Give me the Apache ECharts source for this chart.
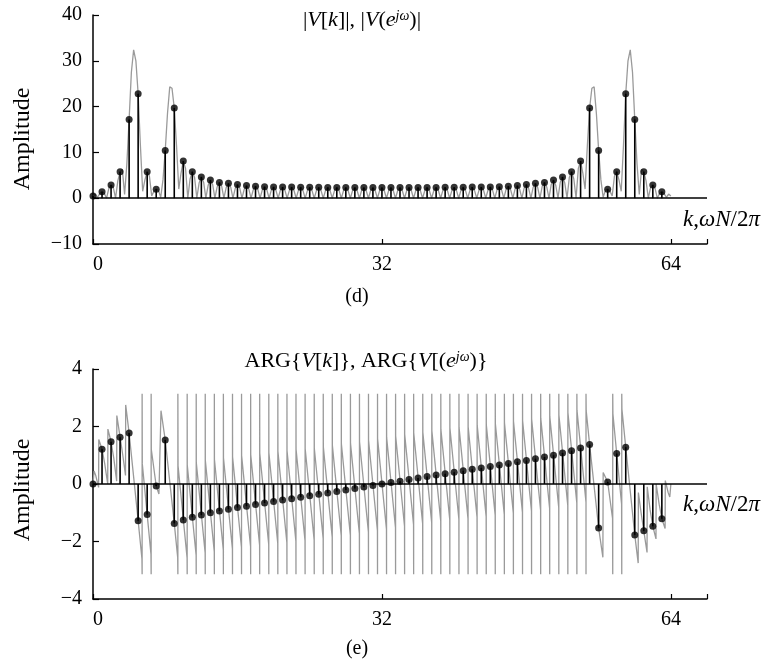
<!DOCTYPE html>
<html><head><meta charset="utf-8">
<script src="https://cdn.jsdelivr.net/npm/echarts@6/dist/echarts.min.js"></script>
<style>html,body{margin:0;padding:0;background:#fff}#c{width:779px;height:666px}</style>
</head><body><div id="c"></div>
<script>
// ---- data ----
const kTicks = [0, 32, 64];
const dftK = [0,1,2,3,4,5,6,7,8,9,10,11,12,13,14,15,16,17,18,19,20,21,22,23,24,25,26,27,28,29,30,31,
  32,33,34,35,36,37,38,39,40,41,42,43,44,45,46,47,48,49,50,51,52,53,54,55,56,57,58,59,60,61,62,63];
const dftMag = [0.5, 1.4, 2.9, 5.8, 17.2, 22.8, 5.8, 1.96, 10.4, 19.7, 8.1, 5.8, 4.65, 3.95, 3.45, 3.25,
  3.0, 2.75, 2.62, 2.52, 2.47, 2.44, 2.42, 2.4, 2.38, 2.37, 2.36, 2.35, 2.34, 2.34, 2.33, 2.33,
  2.33, 2.33, 2.33, 2.34, 2.34, 2.35, 2.36, 2.37, 2.38, 2.4, 2.42, 2.44, 2.47, 2.52, 2.62, 2.75,
  3.0, 3.25, 3.45, 3.95, 4.65, 5.8, 8.1, 19.7, 10.4, 1.96, 5.8, 22.8, 17.2, 5.8, 2.9, 1.4];
const dftPhase = [0, 1.21, 1.47, 1.63, 1.77, -1.28, -1.06, -0.07, 1.53, -1.37, -1.25, -1.16, -1.08, -1.0, -0.94, -0.88,
  -0.82, -0.77, -0.71, -0.66, -0.61, -0.56, -0.51, -0.46, -0.41, -0.36, -0.31, -0.26, -0.21, -0.16, -0.10, -0.05,
  0, 0.05, 0.10, 0.16, 0.21, 0.26, 0.31, 0.36, 0.41, 0.46, 0.51, 0.56, 0.61, 0.66, 0.71, 0.77,
  0.82, 0.88, 0.94, 1.0, 1.08, 1.16, 1.25, 1.37, -1.53, 0.07, 1.06, 1.28, -1.77, -1.63, -1.47, -1.21];
// |V(e^jw)| read at wN/2pi = 0, 0.25, 0.5, ... 64
const dtftMagStep = 0.25;
const dtftMag = [
  0.5, 0.9, 0.2, 1.0,   1.45, 1.1, 0, 2.1,   2.95, 2.3, 0, 3.8,   5.8, 6.3, 0.8, 7.5,
  17.2, 27.5, 32.4, 30.0,   22.8, 11.5, 1.5, 4.0,   5.8, 4.8, 0.5, 1.5,   2.0, 1.7, 0.2, 4.0,
  10.4, 18.5, 24.3, 24.0,   19.7, 11.5, 2.0, 5.5,   8.1, 6.5, 0, 4.2,   5.8, 4.5, 0, 3.3,
  4.65, 3.5, 0, 2.8,   3.95, 3.0, 0, 2.45,   3.45, 2.6, 0, 2.3,   3.25, 2.4, 0, 2.1,
  3.0, 2.2, 0, 1.95,   2.75, 2.05, 0, 1.85,   2.62, 1.95, 0, 1.8,   2.52, 1.85, 0, 1.75,
  2.47, 1.8, 0, 1.73,   2.44, 1.75, 0, 1.72,   2.42, 1.73, 0, 1.7,   2.4, 1.72, 0, 1.7,
  2.38, 1.7, 0, 1.69,   2.37, 1.7, 0, 1.68,   2.36, 1.69, 0, 1.68,   2.35, 1.68, 0, 1.67,
  2.34, 1.68, 0, 1.67,   2.34, 1.67, 0, 1.67,   2.33, 1.67, 0, 1.67,   2.33, 1.67, 0, 1.67,
  2.33, 1.67, 0, 1.67,   2.33, 1.67, 0, 1.67,   2.33, 1.67, 0, 1.67,   2.34, 1.67, 0, 1.68,
  2.34, 1.67, 0, 1.68,   2.35, 1.68, 0, 1.69,   2.36, 1.68, 0, 1.7,   2.37, 1.69, 0, 1.7,
  2.38, 1.7, 0, 1.72,   2.4, 1.7, 0, 1.73,   2.42, 1.72, 0, 1.75,   2.44, 1.73, 0, 1.8,
  2.47, 1.75, 0, 1.85,   2.52, 1.8, 0, 1.95,   2.62, 1.85, 0, 2.05,   2.75, 1.95, 0, 2.2,
  3.0, 2.1, 0, 2.4,   3.25, 2.3, 0, 2.6,   3.45, 2.45, 0, 3.0,   3.95, 2.8, 0, 3.5,
  4.65, 3.3, 0, 4.5,   5.8, 4.2, 0, 6.5,   8.1, 5.5, 2.0, 11.5,   19.7, 24.0, 24.3, 18.5,
  10.4, 4.0, 0.2, 1.7,   2.0, 1.5, 0.5, 4.8,   5.8, 4.0, 1.5, 11.5,   22.8, 30.0, 32.4, 27.5,
  17.2, 7.5, 0.8, 6.3,   5.8, 3.8, 0, 2.3,   2.95, 2.1, 0, 1.1,   1.45, 1.0, 0.2, 0.9,
  0.5];
// ARG{V(e^jw)} as [wN/2pi, phase] points, principal value in (-pi, pi]
const dtftPhase = [
  [0,0],[0.12,0.45],[0.3,0.3],[0.62,-0.12],[0.64,1.55],[1,1.21],[1.3,0.7],[1.63,0.0],
  [1.65,1.91],[2,1.47],[2.3,0.9],[2.62,0.1],[2.64,2.38],[3,1.63],[3.3,1.0],[3.6,0.3],
  [3.62,2.75],[4,1.77],[5,-1.28],[5.42,-2.6],[5.44,-3.14],[5.44,3.14],[5.46,0.70],[6,-1.06],
  [6.42,-2.44],[6.44,-3.14],[6.44,3.14],[6.46,1.2],[7,-0.07],[7.3,-0.35],[7.5,-0.4],[7.53,2.55],
  [8,1.53],[9,-1.37],[9.38,-2.55],[9.40,-3.14],[9.40,3.14],
  [9.42,0.635],[10.42,-2.569],[10.43,-3.14],[10.43,3.14],
  [10.44,0.662],[11.42,-2.479],[11.43,-3.14],[11.43,3.14],
  [11.44,0.742],[12.42,-2.399],[12.43,-3.14],[12.43,3.14],
  [12.44,0.822],[13.43,-2.351],[13.44,-3.14],[13.44,3.14],
  [13.45,0.851],[14.43,-2.291],[14.44,-3.14],[14.44,3.14],
  [14.45,0.911],[15.44,-2.262],[15.45,-3.14],[15.45,3.14],
  [15.46,0.939],[16.44,-2.202],[16.45,-3.14],[16.45,3.14],
  [16.46,0.989],[17.45,-2.184],[17.46,-3.14],[17.46,3.14],
  [17.47,1.018],[18.45,-2.124],[18.46,-3.14],[18.46,3.14],
  [18.47,1.068],[19.46,-2.105],[19.47,-3.14],[19.47,3.14],
  [19.48,1.086],[20.46,-2.055],[20.47,-3.14],[20.47,3.14],
  [20.48,1.136],[21.47,-2.037],[21.48,-3.14],[21.48,3.14],
  [21.49,1.155],[22.47,-1.987],[22.48,-3.14],[22.48,3.14],
  [22.49,1.205],[23.48,-1.968],[23.49,-3.14],[23.49,3.14],
  [23.50,1.224],[24.49,-1.949],[24.50,-3.14],[24.50,3.14],
  [24.51,1.242],[25.49,-1.899],[25.50,-3.14],[25.50,3.14],
  [25.51,1.292],[26.49,-1.849],[26.50,-3.14],[26.50,3.14],
  [26.51,1.342],[27.49,-1.799],[27.50,-3.14],[27.50,3.14],
  [27.51,1.392],[28.50,-1.781],[28.51,-3.14],[28.51,3.14],
  [28.52,1.411],[29.50,-1.731],[29.51,-3.14],[29.51,3.14],
  [29.52,1.471],[30.50,-1.671],[30.51,-3.14],[30.51,3.14],
  [30.52,1.521],[31.50,-1.621],[31.51,-3.14],[31.51,3.14],
  [31.52,1.571],[32.50,-1.571],[32.51,-3.14],[32.51,3.14],
  [32.52,1.621],[33.50,-1.521],[33.51,-3.14],[33.51,3.14],
  [33.52,1.671],[34.50,-1.471],[34.51,-3.14],[34.51,3.14],
  [34.52,1.731],[35.50,-1.411],[35.51,-3.14],[35.51,3.14],
  [35.52,1.781],[36.51,-1.392],[36.52,-3.14],[36.52,3.14],
  [36.53,1.799],[37.51,-1.342],[37.52,-3.14],[37.52,3.14],
  [37.53,1.849],[38.51,-1.292],[38.52,-3.14],[38.52,3.14],
  [38.53,1.899],[39.51,-1.242],[39.52,-3.14],[39.52,3.14],
  [39.53,1.949],[40.52,-1.224],[40.53,-3.14],[40.53,3.14],
  [40.54,1.968],[41.53,-1.205],[41.54,-3.14],[41.54,3.14],
  [41.55,1.987],[42.53,-1.155],[42.54,-3.14],[42.54,3.14],
  [42.55,2.037],[43.54,-1.136],[43.55,-3.14],[43.55,3.14],
  [43.56,2.055],[44.54,-1.086],[44.55,-3.14],[44.55,3.14],
  [44.56,2.105],[45.55,-1.068],[45.56,-3.14],[45.56,3.14],
  [45.57,2.124],[46.55,-1.018],[46.56,-3.14],[46.56,3.14],
  [46.57,2.184],[47.56,-0.989],[47.57,-3.14],[47.57,3.14],
  [47.58,2.202],[48.56,-0.939],[48.57,-3.14],[48.57,3.14],
  [48.58,2.262],[49.57,-0.911],[49.58,-3.14],[49.58,3.14],
  [49.59,2.291],[50.57,-0.851],[50.58,-3.14],[50.58,3.14],
  [50.59,2.351],[51.58,-0.822],[51.59,-3.14],[51.59,3.14],
  [51.60,2.399],[52.58,-0.742],[52.59,-3.14],[52.59,3.14],
  [52.60,2.479],[53.58,-0.662],[53.59,-3.14],[53.59,3.14],
  [53.60,2.569],[54.60,-0.635],[54.60,-3.14],[54.60,3.14],
  [54.62,2.55],[55,1.37],[56,-1.53],[56.47,-2.55],[56.5,0.4],[56.7,0.35],[57,0.07],[57.54,-1.2],
  [57.56,-3.14],[57.56,3.14],[57.58,2.44],[58,1.06],[58.54,-0.70],[58.56,-3.14],[58.56,3.14],[58.58,2.6],
  [59,1.28],[60,-1.77],[60.38,-2.75],[60.4,-0.3],[60.7,-1.0],[61,-1.63],[61.36,-2.38],[61.38,-0.1],
  [61.7,-0.9],[62,-1.47],[62.35,-1.91],[62.37,0],[62.7,-0.7],[63,-1.21],[63.36,-1.55],[63.38,0.12],
  [63.7,-0.3],[63.88,-0.45],[64,0]
];

// ---- chart ----
const FONT = '"Liberation Serif", "Times New Roman", serif';
const chart = echarts.init(document.getElementById('c'), null, {renderer: 'canvas'});
const axisCommon = {
  axisLine: {show: true, onZero: false, lineStyle: {color: '#000', width: 1.5}},
  axisTick: {show: true, inside: true, length: 6, lineStyle: {color: '#000', width: 1.2}},
  splitLine: {show: false},
  axisLabel: {color: '#000', fontFamily: FONT, fontSize: 20}
};
function xAx(gi) {
  return Object.assign({}, axisCommon, {
    type: 'value', gridIndex: gi, min: 0, max: 68, interval: 32,
    axisLabel: Object.assign({}, axisCommon.axisLabel, {margin: 11, alignMinLabel: 'left',
      formatter: v => kTicks.includes(v) ? String(v) : ''}),
    axisTick: Object.assign({}, axisCommon.axisTick, {length: 5})
  });
}
function yAx(gi, mn, mx, iv) {
  return Object.assign({}, axisCommon, {
    type: 'value', gridIndex: gi, min: mn, max: mx, interval: iv,
    axisLabel: Object.assign({}, axisCommon.axisLabel, {margin: 11,
      formatter: v => String(v).replace('-', '\u2212')})
  });
}
const zeroLine = {silent: true, symbol: 'none', label: {show: false},
  lineStyle: {color: '#000', width: 1.5, type: 'solid'}, data: [{yAxis: 0}]};

const magCurve = dtftMag.map((v, i) => [i * dtftMagStep, v]);
const stemMag = dftK.map((k, i) => [k, dftMag[i]]);
const stemPhase = dftK.map((k, i) => [k, dftPhase[i]]);
const rich = {i: {fontStyle: 'italic', fontFamily: FONT, fontSize: 22},
              s: {fontStyle: 'italic', fontFamily: FONT, fontSize: 14, verticalAlign: 'top'}};
const option = {
  animation: false,
  backgroundColor: '#fff',
  grid: [
    {left: 93, top: 15, width: 614, height: 229},
    {left: 93, top: 369, width: 614, height: 230}
  ],
  xAxis: [xAx(0), xAx(1)],
  yAxis: [yAx(0, -10, 40, 10), yAx(1, -4, 4, 2)],
  series: [
    {type: 'line', xAxisIndex: 0, yAxisIndex: 0, data: magCurve, showSymbol: false,
      lineStyle: {color: '#9a9a9a', width: 1.3}, z: 2, markLine: zeroLine},
    {type: 'bar', xAxisIndex: 0, yAxisIndex: 0, data: stemMag,
      barWidth: 1.6, itemStyle: {color: '#000'}, z: 3},
    {type: 'scatter', xAxisIndex: 0, yAxisIndex: 0, data: stemMag,
      symbolSize: 7, itemStyle: {color: '#000'}, z: 4},
    {type: 'line', xAxisIndex: 1, yAxisIndex: 1, data: dtftPhase, showSymbol: false,
      lineStyle: {color: '#9a9a9a', width: 1.3}, z: 2, markLine: zeroLine},
    {type: 'bar', xAxisIndex: 1, yAxisIndex: 1, data: stemPhase,
      barWidth: 1.6, itemStyle: {color: '#000'}, z: 3},
    {type: 'scatter', xAxisIndex: 1, yAxisIndex: 1, data: stemPhase,
      symbolSize: 7, itemStyle: {color: '#000'}, z: 4}
  ],
  graphic: [
    {type: 'text', x: 23, y: 139, rotation: Math.PI / 2,
      style: {text: 'Amplitude', font: '24px ' + FONT, fill: '#000', textAlign: 'center', textVerticalAlign: 'middle'}},
    {type: 'text', x: 23, y: 490, rotation: Math.PI / 2,
      style: {text: 'Amplitude', font: '24px ' + FONT, fill: '#000', textAlign: 'center', textVerticalAlign: 'middle'}},
    {type: 'text', x: 362, y: 20,
      style: {text: '|{i|V}[{i|k}]|, |{i|V}({i|e}{s|jω})|', font: '22px ' + FONT, fill: '#000',
        textAlign: 'center', textVerticalAlign: 'middle', rich: rich}},
    {type: 'text', x: 366, y: 361,
      style: {text: 'ARG{{i|V}[{i|k}]}, ARG{{i|V}[({i|e}{s|jω})}', font: '22px ' + FONT, fill: '#000',
        textAlign: 'center', textVerticalAlign: 'middle', rich: rich}},
    {type: 'text', x: 683, y: 220,
      style: {text: '{i|k},{i|ωN}/2{i|π}', font: '23px ' + FONT, fill: '#000',
        textAlign: 'left', textVerticalAlign: 'middle',
        rich: {i: {fontStyle: 'italic', fontFamily: FONT, fontSize: 23}}}},
    {type: 'text', x: 683, y: 505,
      style: {text: '{i|k},{i|ωN}/2{i|π}', font: '23px ' + FONT, fill: '#000',
        textAlign: 'left', textVerticalAlign: 'middle',
        rich: {i: {fontStyle: 'italic', fontFamily: FONT, fontSize: 23}}}},
    {type: 'text', x: 357, y: 297,
      style: {text: '(d)', font: '20px ' + FONT, fill: '#000', textAlign: 'center', textVerticalAlign: 'middle'}},
    {type: 'text', x: 357, y: 649,
      style: {text: '(e)', font: '20px ' + FONT, fill: '#000', textAlign: 'center', textVerticalAlign: 'middle'}}
  ]
};
chart.setOption(option);
</script>
</body></html>
